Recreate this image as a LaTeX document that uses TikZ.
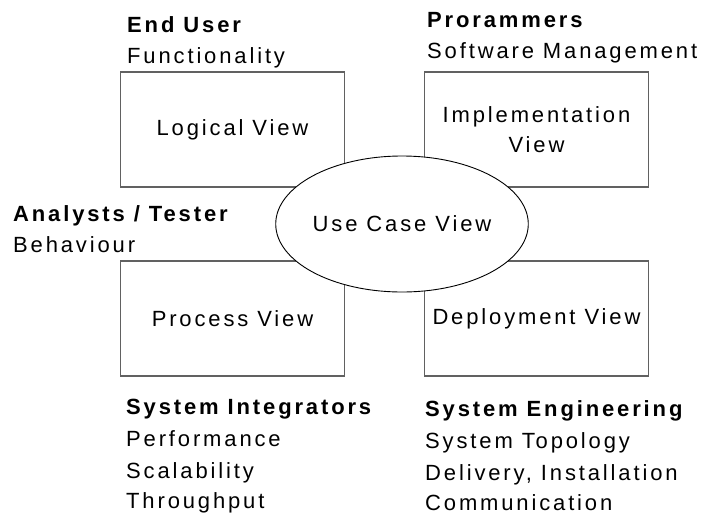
\documentclass[tikz,border=0pt]{standalone}
\usepackage{fontspec}
\setmainfont{Liberation Sans}[LetterSpace=13]
\usetikzlibrary{shapes.geometric}
\begin{document}
\begin{tikzpicture}[x=1pt,y=-1pt,
  every node/.style={font=\fontsize{22}{30}\selectfont},
  viewbox/.style={draw=black!62, line width=1.5pt, minimum width=224pt,
    minimum height=115pt, inner sep=0pt, align=center},
  hub/.style={ellipse, draw=black, line width=0.9pt, fill=white,
    minimum width=228pt, minimum height=136pt, inner sep=0pt},
  role/.style={anchor=base west, inner sep=0pt, font=\fontsize{22}{30}\selectfont\bfseries},
  concern/.style={anchor=base west, inner sep=0pt}]
\useasboundingbox (0,0) rectangle (704,515);

% the four architectural views
\node[viewbox] (logical) at (232.5,129.5) {Logical View};
\node[viewbox] (impl) at (536.5,129.5) {Implementation\\View};
\node[viewbox] (process) at (232.5,318.5) {Process View};
\node[viewbox] (deploy) at (536.5,318.5) {Deployment View};

% central scenario view, overlapping the inner corners
\node[hub] (usecase) at (402,224) {Use Case View};

% stakeholders and their concerns
\node[role] (enduser) at (127,32) {End User};
\node[concern] (func) at (127,63) {Functionality};

\node[role] (prog) at (427,27) {Prorammers};
\node[concern] (swmgmt) at (427,58) {Software Management};

\node[role] (analyst) at (13,221) {Analysts / Tester};
\node[concern] (behav) at (13,252) {Behaviour};

\node[role] (integr) at (126,414) {System Integrators};
\node[concern] (perf) at (126,446) {Performance};
\node[concern] (scal) at (126,478) {Scalability};
\node[concern] (thru) at (126,508) {Throughput};

\node[role] (syseng) at (425,416) {System Engineering};
\node[concern] (topo) at (425,448) {System Topology};
\node[concern] (deliv) at (425,480) {Delivery, Installation};
\node[concern] (comm) at (425,510) {Communication};
\end{tikzpicture}
\end{document}
